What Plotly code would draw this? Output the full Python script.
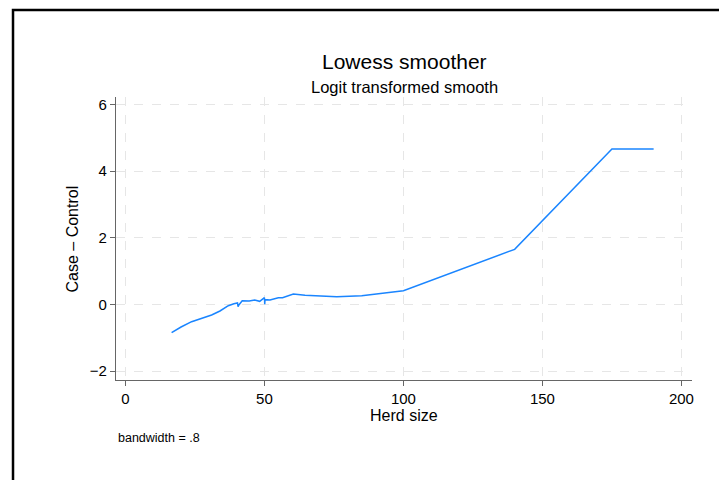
import plotly.graph_objects as go

herd_size = [16.6, 20, 23.8, 28.6, 31, 34, 37, 39, 40.3, 40.5, 40.8, 42, 44.5, 46.5, 48.3,
             50.0, 50.1, 50.2, 52, 55, 56.5, 58, 60.4, 64.6, 70, 76, 85, 92, 100, 140, 175, 190]
smooth = [-0.85, -0.68, -0.52, -0.39, -0.32, -0.2, -0.04, 0.02, 0.04, -0.07, -0.02, 0.11, 0.1, 0.13, 0.09,
          0.2, 0.0, 0.14, 0.13, 0.2, 0.2, 0.24, 0.31, 0.27, 0.25, 0.23, 0.26, 0.32, 0.41, 1.65, 4.66, 4.66]

x_ticks = [0, 50, 100, 150, 200]
y_ticks = [-2, 0, 2, 4, 6]

FONT = "Liberation Sans, Arial, Helvetica, sans-serif"
AXIS_COL = "#666666"
GRID_COL = "#e6e6e6"

fig = go.Figure()
fig.add_trace(go.Scatter(x=herd_size, y=smooth, mode="lines",
                         line=dict(color="#1a85ff", width=1.5), showlegend=False,
                         hoverinfo="skip"))

fig.update_layout(
    width=719, height=480,
    margin=dict(l=116, r=27, t=97, b=100),
    paper_bgcolor="white", plot_bgcolor="white",
    font=dict(family=FONT, color="black"),
    showlegend=False,
    xaxis=dict(range=[-3.4, 203.8], tickvals=x_ticks, ticktext=[str(v) for v in x_ticks],
               showgrid=True, gridcolor=GRID_COL, griddash="dash", gridwidth=1,
               showline=True, linecolor=AXIS_COL, linewidth=1.2,
               ticks="outside", ticklen=5, tickcolor=AXIS_COL, tickwidth=1,
               tickfont=dict(size=15, family=FONT, color="black"), zeroline=False),
    yaxis=dict(range=[-2.27, 6.22], tickvals=y_ticks,
               ticktext=["\u22122", "0", "2", "4", "6"],
               showgrid=True, gridcolor=GRID_COL, griddash="dash", gridwidth=1,
               showline=True, linecolor=AXIS_COL, linewidth=1.2,
               ticks="outside", ticklen=5, tickcolor=AXIS_COL, tickwidth=1,
               tickfont=dict(size=15, family=FONT, color="black"), zeroline=False),
    annotations=[
        dict(text="Lowess smoother", xref="paper", yref="paper", x=0.5, y=1.1237,
             xanchor="center", yanchor="middle", showarrow=False, font=dict(size=21, family=FONT)),
        dict(text="Logit transformed smooth", xref="paper", yref="paper", x=0.5, y=1.0353,
             xanchor="center", yanchor="middle", showarrow=False, font=dict(size=16.5, family=FONT)),
        dict(text="Herd size", xref="paper", yref="paper", x=0.5, y=-0.127,
             xanchor="center", yanchor="middle", showarrow=False, font=dict(size=16, family=FONT)),
        dict(text="Case \u2013 Control", xref="paper", yref="paper", x=-0.0747, y=0.5,
             xanchor="center", yanchor="middle", textangle=-90, showarrow=False,
             font=dict(size=16, family=FONT)),
        dict(text="bandwidth = .8", xref="paper", yref="paper", x=0.0, y=-0.205,
             xanchor="left", yanchor="middle", showarrow=False, font=dict(size=12.5, family=FONT)),
    ],
    shapes=[
        dict(type="rect", xref="paper", yref="paper", x0=-0.1788, x1=1.1, y0=-0.5, y1=1.3074,
             line=dict(color="black", width=2.5), fillcolor="rgba(0,0,0,0)", layer="above"),
    ],
)

fig.write_html("out.html", config={"displayModeBar": False},
               post_script="document.body.style.margin='0';document.body.style.overflow='hidden';")
